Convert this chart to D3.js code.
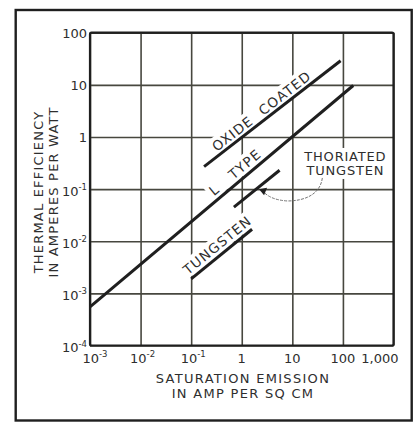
<!DOCTYPE html>
<html>
<head>
<meta charset="utf-8">
<script src="https://cdn.jsdelivr.net/npm/d3@7"></script>
<style>
  html, body { margin: 0; padding: 0; background: #ffffff; }
  svg { display: block; }
  text { font-family: "DejaVu Sans", "Liberation Sans", sans-serif; fill: #2e2e2e; }
</style>
</head>
<body>
<svg id="chart" width="415" height="422"></svg>
<script>
// Cathode families: emission (A per sq cm) and thermal efficiency (A per W)
// at the two ends of each straight log-log line.
const cathodes        = ["OXIDE COATED", "L TYPE", "THORIATED TUNGSTEN", "TUNGSTEN"];
const emissionStart   = [0.18, 0.001, 0.7, 0.1];
const emissionEnd     = [90, 160, 5.6, 1.6];
const efficiencyStart = [0.27, 0.00055, 0.045, 0.0019];
const efficiencyEnd   = [29, 9.7, 0.23, 0.017];

// Axis ticks ("^" marks the exponent)
const xTickValues = [1e-3, 1e-2, 1e-1, 1, 10, 100, 1000];
const xTickLabels = ["10^-3", "10^-2", "10^-1", "1", "10", "100", "1,000"];
const yTickValues = [1e-4, 1e-3, 1e-2, 1e-1, 1, 10, 100];
const yTickLabels = ["10^-4", "10^-3", "10^-2", "10^-1", "1", "10", "100"];

const xTitle = ["SATURATION EMISSION", "IN AMP PER SQ CM"];
const yTitle = ["THERMAL EFFICIENCY", "IN AMPERES PER WATT"];

// ---- layout ----
const plot = { left: 90, top: 32.7, right: 393.5, bottom: 345.5 };
const ink = "#1f1f1f", gridInk = "#47473f";

const svg = d3.select("#chart");

const x = d3.scaleLog().domain([1e-3, 1e3]).range([plot.left, plot.right]);
const y = d3.scaleLog().domain([1e-4, 1e2]).range([plot.bottom, plot.top]);

// outer frame
svg.append("rect")
  .attr("x", 15.7).attr("y", 10).attr("width", 396).attr("height", 410.5)
  .attr("fill", "#fff").attr("stroke", ink).attr("stroke-width", 2.4);

// grid via axes
const gx = svg.append("g")
  .attr("transform", `translate(0,${plot.bottom})`)
  .call(d3.axisBottom(x).tickValues(xTickValues)
        .tickSize(-(plot.bottom - plot.top)).tickFormat(""));
const gy = svg.append("g")
  .attr("transform", `translate(${plot.left},0)`)
  .call(d3.axisLeft(y).tickValues(yTickValues)
        .tickSize(-(plot.right - plot.left)).tickFormat(""));
[gx, gy].forEach(g => {
  g.select(".domain").remove();
  g.selectAll(".tick line").attr("stroke", gridInk).attr("stroke-width", 1.6);
});

// tick labels with superscript exponents
function writeLabel(sel, label) {
  const [base, sup] = label.split("^");
  sel.append("tspan").text(base);
  if (sup) sel.append("tspan").attr("font-size", 8.5).attr("dy", -5.5).text(sup);
}

xTickLabels.forEach((lab, i) => {
  const last = i === xTickLabels.length - 1;
  const t = svg.append("text")
    .attr("x", x(xTickValues[i]) + (i === 0 ? 5 : last ? 5 : (lab.includes("^") ? 2 : 0)))
    .attr("y", plot.bottom + 17)
    .attr("font-size", 13)
    .attr("text-anchor", last ? "end" : "middle");
  writeLabel(t, lab);
});

yTickLabels.forEach((lab, i) => {
  const t = svg.append("text")
    .attr("x", plot.left - 3)
    .attr("y", y(yTickValues[i]) + (lab.includes("^") ? 6.5 : 4.8))
    .attr("font-size", 13)
    .attr("text-anchor", "end");
  writeLabel(t, lab);
});

// plot border
svg.append("rect")
  .attr("x", plot.left).attr("y", plot.top)
  .attr("width", plot.right - plot.left).attr("height", plot.bottom - plot.top)
  .attr("rx", 1.5)
  .attr("fill", "none").attr("stroke", ink).attr("stroke-width", 2.2);

// axis titles
xTitle.forEach((s, i) => {
  svg.append("text")
    .attr("x", 243).attr("y", 383 + i * 15)
    .attr("font-size", 13).attr("letter-spacing", 1.3)
    .attr("text-anchor", "middle").text(s);
});
yTitle.forEach((s, i) => {
  svg.append("text")
    .attr("transform", `translate(${43 + i * 15},192) rotate(-90)`)
    .attr("font-size", 13).attr("letter-spacing", 1.2)
    .attr("text-anchor", "middle").text(s);
});

// ---- cathode lines ----
const segs = cathodes.map((name, i) => ({
  name,
  x1: x(emissionStart[i]), y1: y(efficiencyStart[i]),
  x2: x(emissionEnd[i]),   y2: y(efficiencyEnd[i])
}));

// labels written along the lines: fraction along segment, offset above it
const along = {
  "OXIDE COATED": { t: 0.46, off: 8.5, text: "OXIDE\u00A0\u00A0COATED" },
  "L TYPE":       { t: 0.575, off: 9.5, text: "L\u00A0\u00A0\u00A0TYPE" },
  "TUNGSTEN":     { t: 0.53, off: 9.5, text: "TUNGSTEN" }
};

const labelLayer = svg.append("g");
const lineLayer = svg.append("g");

segs.forEach(s => {
  const cfg = along[s.name];
  if (!cfg) return;
  const ang = Math.atan2(s.y2 - s.y1, s.x2 - s.x1) * 180 / Math.PI;
  const cx = s.x1 + cfg.t * (s.x2 - s.x1);
  const cy = s.y1 + cfg.t * (s.y2 - s.y1);
  const g = labelLayer.append("g")
    .attr("transform", `translate(${cx},${cy}) rotate(${ang})`);
  const bg = g.append("rect").attr("fill", "#fff");
  const txt = g.append("text")
    .attr("x", 0).attr("y", -cfg.off + 4.7)
    .attr("font-size", 13.5).attr("letter-spacing", 1.2)
    .attr("text-anchor", "middle").text(cfg.text);
  const bb = txt.node().getBBox();
  bg.attr("x", bb.x - 3).attr("y", bb.y - 1)
    .attr("width", bb.width + 6).attr("height", bb.height + 1);
});

lineLayer.selectAll("line").data(segs).join("line")
  .attr("x1", d => d.x1).attr("y1", d => d.y1)
  .attr("x2", d => d.x2).attr("y2", d => d.y2)
  .attr("stroke", ink).attr("stroke-width", 3)
  .attr("stroke-linecap", "butt");

// ---- thoriated tungsten callout ----
const lx = x(10) + 53, ly = y(1) + 26;   // label centre
const callout = svg.append("g");
const cbg = callout.append("rect").attr("fill", "#fff");
const ct = callout.append("text")
  .attr("font-size", 13).attr("letter-spacing", 0.8)
  .attr("text-anchor", "middle");
ct.append("tspan").attr("x", lx).attr("y", ly - 2).text("THORIATED");
ct.append("tspan").attr("x", lx).attr("y", ly + 12).text("TUNGSTEN");
const cbb = ct.node().getBBox();
cbg.attr("x", cbb.x - 2).attr("y", cbb.y - 1)
   .attr("width", cbb.width + 4).attr("height", cbb.height + 2);

// curved leader ending in an arrow on the thoriated line
const th = segs[2];
const tipX = x(2.2);
const tipY = th.y1 + (tipX - th.x1) / (th.x2 - th.x1) * (th.y2 - th.y1) + 2.5;
const p = d3.path();
p.moveTo(lx - 23, ly + 15);
p.bezierCurveTo(lx - 25, ly + 31, lx - 40, ly + 38, lx - 58, ly + 38);
p.quadraticCurveTo(lx - 74, ly + 37, tipX + 5, tipY + 3);
callout.append("path").attr("d", p.toString())
  .attr("fill", "none").attr("stroke", "#767676").attr("stroke-width", 1)
  .attr("stroke-dasharray", "3,1.2");
callout.append("path")
  .attr("d", `M${tipX},${tipY} L${tipX + 8},${tipY - 1.5} L${tipX + 5},${tipY + 6} Z`)
  .attr("fill", ink);
</script>
</body>
</html>
